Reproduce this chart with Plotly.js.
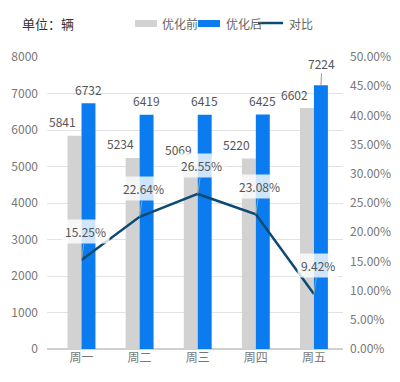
<!DOCTYPE html>
<html><head><meta charset="utf-8">
<script src="https://cdn.plot.ly/plotly-3.0.1.min.js"></script>
<style>body{margin:0;background:#fff}#c{width:400px;height:382px}</style>
</head><body><div id="c"></div>
<script>
const categories = ['周一','周二','周三','周四','周五'];
const before = [5841, 5234, 5069, 5220, 6602];
const after = [6732, 6419, 6415, 6425, 7224];
const ratio = [0.1525, 0.2264, 0.2655, 0.2308, 0.0942];
const seriesNames = ['优化前','优化后','对比'];
const leftTicks = [0,1000,2000,3000,4000,5000,6000,7000,8000];
const rightTicks = [0,0.05,0.10,0.15,0.20,0.25,0.30,0.35,0.40,0.45,0.50];

const font = '"Noto Sans CJK SC", "Noto Sans", sans-serif';
const colors = ['#d2d2d2','#0a7cf0','#0d4a73'];
const traces = [
  {type:'bar', name:seriesNames[0], x:categories, y:before, marker:{color:colors[0]}, hoverinfo:'none'},
  {type:'bar', name:seriesNames[1], x:categories, y:after, marker:{color:colors[1]}, hoverinfo:'none'},
  {type:'scatter', mode:'lines', name:seriesNames[2], x:categories, y:ratio, yaxis:'y2', line:{color:colors[2], width:2.5}, hoverinfo:'none'}
];
const ann = [];
ann.push({xref:'paper', yref:'paper', x:-0.0912, y:1.1164, xanchor:'left', yanchor:'middle', text:'单位：辆', showarrow:false, font:{size:13, color:'#333'}});
before.forEach((v,i)=>ann.push({x:categories[i], y:v, xshift:-19, yshift:14, text:String(v), showarrow:false, font:{size:12,color:'#555'}}));
after.forEach((v,i)=>{
  const last = i===after.length-1;
  ann.push({x:categories[i], y:v, xshift:7, text:String(v), showarrow:last, arrowhead:0, arrowwidth:1, arrowcolor:'#999', ax:1, ay:last?-22:0, yshift:last?0:14, font:{size:12,color:'#555'}});
});
ratio.forEach((v,i)=>ann.push({x:categories[i], y:v, yref:'y2', text:(v*100).toFixed(2)+'%', showarrow:true, arrowhead:0, arrowwidth:1, arrowcolor:'#8aa', ax:4, ay:-28, bgcolor:'rgba(255,255,255,0.8)', borderpad:3, font:{size:12,color:'#555'}}));

// manual legend
const legX = [[0.2973,0.3716,0.3818],[0.5101,0.5845,0.598],[0.7128,0.7973,0.8108]];
const shapes = [];
seriesNames.forEach((n,i)=>{
  if(i<2){
    shapes.push({type:'rect', xref:'paper', yref:'paper', x0:legX[i][0], x1:legX[i][1], y0:1.1027, y1:1.1267, fillcolor:colors[i], line:{width:0}});
  } else {
    shapes.push({type:'line', xref:'paper', yref:'paper', x0:legX[i][0], x1:legX[i][1], y0:1.1164, y1:1.1164, line:{color:colors[i], width:2.5}});
  }
  ann.push({xref:'paper', yref:'paper', x:legX[i][2], y:1.1164, xanchor:'left', yanchor:'middle', text:n, showarrow:false, font:{size:12,color:'#666'}});
});

const layout = {
  width:400, height:382,
  margin:{l:47, r:57, t:57, b:33},
  paper_bgcolor:'#fff', plot_bgcolor:'#fff',
  font:{family:font, size:12, color:'#777'},
  barmode:'group', bargap:0.52, bargroupgap:0,
  showlegend:false,
  xaxis:{type:'category', showgrid:false, showline:false, ticks:'', tickfont:{size:12,color:'#777'}, fixedrange:true},
  yaxis:{range:[0,8000], tickvals:leftTicks, ticktext:leftTicks.map(String), showgrid:true, gridcolor:'#e2e2e2', gridwidth:1, zeroline:true, zerolinecolor:'#d0d0d0', zerolinewidth:1.5, ticks:'', ticklabelstandoff:8, tickfont:{size:12,color:'#777'}},
  yaxis2:{overlaying:'y', side:'right', range:[0,0.5], tickvals:rightTicks, ticktext:rightTicks.map(t=>(t*100).toFixed(2)+'%'), showgrid:false, zeroline:false, ticks:'', ticklabelstandoff:6, tickfont:{size:12,color:'#777'}},
  shapes:shapes,
  annotations:ann
};
Plotly.newPlot('c', traces, layout, {displayModeBar:false, staticPlot:true});
</script></body></html>
